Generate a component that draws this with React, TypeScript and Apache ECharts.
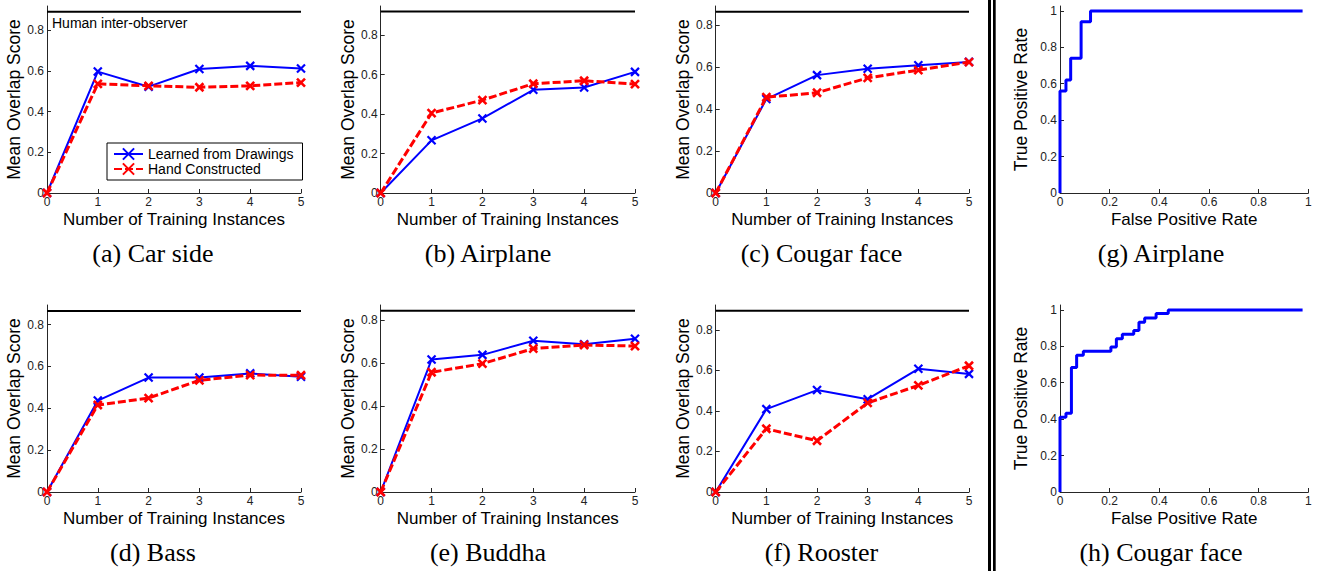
import React, { useEffect, useRef } from "react";
import * as echarts from "echarts";

const W = 1318;
const H = 571;

// ---------- data ----------
const steps = [0, 1, 2, 3, 4, 5];

const carLearned = [0, 0.596, 0.522, 0.609, 0.624, 0.611];
const carHand = [0, 0.536, 0.526, 0.519, 0.526, 0.542];
const airplaneLearned = [0, 0.267, 0.378, 0.523, 0.535, 0.614];
const airplaneHand = [0, 0.405, 0.471, 0.554, 0.569, 0.552];
const cougarLearned = [0, 0.447, 0.561, 0.591, 0.608, 0.624];
const cougarHand = [0, 0.456, 0.477, 0.548, 0.585, 0.623];
const bassLearned = [0, 0.437, 0.547, 0.547, 0.567, 0.551];
const bassHand = [0, 0.416, 0.449, 0.534, 0.559, 0.558];
const buddhaLearned = [0, 0.616, 0.638, 0.704, 0.687, 0.713];
const buddhaHand = [0, 0.557, 0.597, 0.667, 0.684, 0.679];
const roosterLearned = [0, 0.409, 0.503, 0.458, 0.608, 0.583];
const roosterHand = [0, 0.312, 0.253, 0.44, 0.526, 0.623];

const humanObserver = [0.89, 0.92, 0.863, 0.865, 0.843, 0.895];
const yMaxes = [0.918, 0.948, 0.89, 0.894, 0.87, 0.923];
const overlapTicks = [0, 0.2, 0.4, 0.6, 0.8];

const captions = [
  "(a) Car side",
  "(b) Airplane",
  "(c) Cougar face",
  "(d) Bass",
  "(e) Buddha",
  "(f) Rooster",
];
const rocCaptions = ["(g) Airplane", "(h) Cougar face"];

const rocAirplaneFpr = [0, 0, 0.024, 0.043, 0.085, 0.123, 0.977];
const rocAirplaneTpr = [0, 0.56, 0.62, 0.74, 0.94, 1, 1];
const rocCougarFpr = [0, 0, 0.024, 0.046, 0.067, 0.094, 0.205, 0.227, 0.251, 0.297, 0.318, 0.341, 0.387, 0.436, 0.977];
const rocCougarTpr = [0, 0.41, 0.433, 0.684, 0.751, 0.773, 0.797, 0.841, 0.867, 0.887, 0.932, 0.956, 0.98, 1, 1];
const rateTicks = [0, 0.2, 0.4, 0.6, 0.8, 1];

const LEARNED = "Learned from Drawings";
const HAND = "Hand Constructed";

// ---------- layout ----------
const colLeft = [47, 380.7, 715.7];
const colRight = [301, 635, 969];
const rowTop = [6, 305];
const rowBase = [193, 492];
const captionX = [153, 488, 821.5];
const rocLeft = 1060;
const rocRight = 1308.3;
const rocCaptionX = 1161;
const captionY = [253, 552];

const SANS = "Liberation Sans, Arial, Helvetica, sans-serif";
const SERIF = "Liberation Serif, Times New Roman, serif";
const XSYM = "path://M0,0L10,10M10,0L0,10";
const AXIS_COLOR = "#262626";

function buildOption() {
  const learnedSets = [carLearned, airplaneLearned, cougarLearned, bassLearned, buddhaLearned, roosterLearned];
  const handSets = [carHand, airplaneHand, cougarHand, bassHand, buddhaHand, roosterHand];

  const grid: any[] = [];
  const xAxis: any[] = [];
  const yAxis: any[] = [];
  const series: any[] = [];
  const graphic: any[] = [];

  const axisCommon = {
    axisLine: { show: true, lineStyle: { color: AXIS_COLOR, width: 1 } },
    splitLine: { show: false },
    nameLocation: "middle",
    nameTextStyle: { fontSize: 17, fontFamily: SANS, color: "#000" },
  };

  for (let i = 0; i < 6; i++) {
    const col = i % 3;
    const row = Math.floor(i / 3);
    grid.push({
      left: colLeft[col],
      width: colRight[col] - colLeft[col],
      top: rowTop[row],
      height: rowBase[row] - rowTop[row],
    });
    xAxis.push({
      ...axisCommon,
      gridIndex: i,
      type: "value",
      min: 0,
      max: 5,
      interval: 1,
      name: "Number of Training Instances",
      nameGap: 18,
      axisTick: { show: true, inside: true, length: 4, lineStyle: { color: AXIS_COLOR } },
      axisLabel: { fontSize: 12, fontFamily: SANS, color: "#222", margin: 3 },
    });
    yAxis.push({
      ...axisCommon,
      gridIndex: i,
      type: "value",
      min: 0,
      max: yMaxes[i],
      name: "Mean Overlap Score",
      nameGap: col === 0 ? 22 : 24,
      nameTextStyle: { fontSize: 17.5, fontFamily: SANS, color: "#000" },
      axisTick: {
        show: true,
        inside: true,
        length: 4,
        customValues: overlapTicks,
        lineStyle: { color: AXIS_COLOR },
      },
      axisLabel: {
        fontSize: 12,
        fontFamily: SANS,
        color: "#222",
        margin: 3,
        customValues: overlapTicks,
      },
    });
    series.push({
      type: "line",
      name: "human",
      xAxisIndex: i,
      yAxisIndex: i,
      data: [
        [steps[0], humanObserver[i]],
        [steps[steps.length - 1], humanObserver[i]],
      ],
      symbol: "none",
      silent: true,
      lineStyle: { color: "#000", width: 2 },
      z: 2,
    });
    series.push({
      type: "line",
      name: LEARNED,
      xAxisIndex: i,
      yAxisIndex: i,
      data: steps.map((s, k) => [s, learnedSets[i][k]]),
      symbol: XSYM,
      symbolSize: 8,
      showAllSymbol: true,
      lineStyle: { color: "#0000ff", width: 2 },
      itemStyle: { color: "#0000ff", borderColor: "#0000ff", borderWidth: 2.2 },
      z: 3,
    });
    series.push({
      type: "line",
      name: HAND,
      xAxisIndex: i,
      yAxisIndex: i,
      data: steps.map((s, k) => [s, handSets[i][k]]),
      symbol: XSYM,
      symbolSize: 8,
      showAllSymbol: true,
      lineStyle: { color: "#ff0000", width: 3, type: [8, 3] },
      itemStyle: { color: "#ff0000", borderColor: "#ff0000", borderWidth: 2.6 },
      z: 4,
    });
    graphic.push({
      type: "text",
      x: captionX[col],
      y: captionY[row],
      style: {
        text: captions[i],
        fontSize: 26,
        fontFamily: SERIF,
        fill: "#000",
        align: "center",
        verticalAlign: "middle",
      },
    });
  }

  const rocSets = [
    [rocAirplaneFpr, rocAirplaneTpr],
    [rocCougarFpr, rocCougarTpr],
  ];
  for (let r = 0; r < 2; r++) {
    const idx = 6 + r;
    grid.push({
      left: rocLeft,
      width: rocRight - rocLeft,
      top: rowTop[r],
      height: rowBase[r] - rowTop[r],
    });
    xAxis.push({
      ...axisCommon,
      gridIndex: idx,
      type: "value",
      min: 0,
      max: 1,
      interval: 0.2,
      name: "False Positive Rate",
      nameGap: 18,
      axisTick: { show: true, inside: true, length: 4, lineStyle: { color: AXIS_COLOR } },
      axisLabel: { fontSize: 12, fontFamily: SANS, color: "#222", margin: 3 },
    });
    yAxis.push({
      ...axisCommon,
      gridIndex: idx,
      type: "value",
      min: 0,
      max: 1.027,
      name: "True Positive Rate",
      nameGap: 30,
      nameTextStyle: { fontSize: 17.5, fontFamily: SANS, color: "#000" },
      axisTick: {
        show: true,
        inside: true,
        length: 4,
        customValues: rateTicks,
        lineStyle: { color: AXIS_COLOR },
      },
      axisLabel: {
        fontSize: 12,
        fontFamily: SANS,
        color: "#222",
        margin: 3,
        customValues: rateTicks,
      },
    });
    const [fpr, tpr] = rocSets[r];
    series.push({
      type: "line",
      name: "roc" + r,
      xAxisIndex: idx,
      yAxisIndex: idx,
      step: "end",
      data: fpr.map((f, k) => [f, tpr[k]]),
      symbol: "none",
      lineStyle: { color: "#0000ff", width: 3 },
      z: 3,
    });
    graphic.push({
      type: "text",
      x: rocCaptionX,
      y: captionY[r],
      style: {
        text: rocCaptions[r],
        fontSize: 26,
        fontFamily: SERIF,
        fill: "#000",
        align: "center",
        verticalAlign: "middle",
      },
    });
  }

  graphic.push({
    type: "text",
    x: 52,
    y: 23,
    style: {
      text: "Human inter-observer",
      fontSize: 14,
      fontFamily: SANS,
      fill: "#000",
      align: "left",
      verticalAlign: "middle",
    },
  });
  graphic.push({
    type: "rect",
    shape: { x: 988, y: 0, width: 3, height: H },
    style: { fill: "#000" },
  });
  graphic.push({
    type: "rect",
    shape: { x: 993, y: 0, width: 2.7, height: H },
    style: { fill: "#000" },
  });

  return {
    animation: false,
    backgroundColor: "#fff",
    grid,
    xAxis,
    yAxis,
    series,
    graphic,
    legend: {
      data: [LEARNED, HAND],
      left: 107,
      top: 143,
      orient: "vertical",
      itemWidth: 29,
      itemHeight: 14,
      itemGap: 1,
      padding: [4, 9, 4, 6],
      borderColor: "#000",
      borderWidth: 1,
      backgroundColor: "#fff",
      selectedMode: false,
      textStyle: { fontSize: 14, fontFamily: SANS, color: "#000" },
      z: 10,
    },
  };
}

export default function App() {
  const ref = useRef<HTMLDivElement>(null);
  useEffect(() => {
    const chart = echarts.init(ref.current!, null, { renderer: "svg" });
    chart.setOption(buildOption() as any);
    return () => chart.dispose();
  }, []);
  return (
    <div
      ref={ref}
      style={{ position: "absolute", left: 0, top: 0, width: W, height: H }}
    />
  );
}
